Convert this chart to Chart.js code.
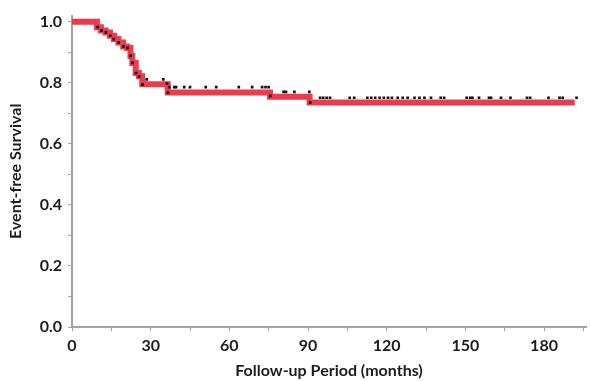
<!DOCTYPE html>
<html>
<head>
<meta charset="utf-8">
<script src="https://cdn.jsdelivr.net/npm/chart.js@4/dist/chart.umd.min.js"></script>
<style>
html,body{margin:0;padding:0;background:#fff;}
#wrap{width:590px;height:381px;}
</style>
</head>
<body>
<div id="wrap"><canvas id="c" width="590" height="381"></canvas></div>
<script>
// Kaplan-Meier step curve (red)
const stepMonths   = [0, 9.5, 11, 12.8, 14.5, 16, 17.7, 19.5, 21, 22.3, 23, 24.3, 25.5, 26.8, 36.5, 75.5, 90.6, 191.7];
const stepSurvival = [1.0, 0.982, 0.971, 0.965, 0.954, 0.943, 0.932, 0.919, 0.914, 0.888, 0.865, 0.832, 0.821, 0.795, 0.768, 0.754, 0.735, 0.735];

// Event markers (black dots on the curve)
const eventMonths   = [9.8, 11.3, 12.9, 14.6, 15.9, 17.8, 19.6, 21.2, 22.4, 23.1, 24.4, 25.6, 26.9, 36.6, 75.6, 90.8];
const eventSurvival = [0.982, 0.971, 0.965, 0.954, 0.943, 0.932, 0.919, 0.914, 0.888, 0.865, 0.832, 0.821, 0.794, 0.768, 0.757, 0.735];

// Censored observations (black dots)
const censorMonths = [28.5, 34.8, 36.2, 37.1,
  39.0, 39.7, 42.8, 45.0, 51.0, 55.0, 63.6, 68.7, 72.5, 73.8, 75.0,
  80.7, 81.6, 84.8, 90.5,
  94.6, 95.8, 97.1, 98.4, 105.9, 107.6, 112.6, 114.1, 115.6, 117.3, 118.9, 120.5, 122.0,
  124.2, 126.1, 128.0, 130.6, 132.5, 134.4, 136.9, 140.6, 141.9, 150.5, 151.8, 152.7,
  155.2, 159.0, 159.8, 163.6, 167.2, 173.5, 174.7, 181.7, 185.9, 187.1, 192.4];
const censorSurvival = [0.811, 0.811, 0.797, 0.786,
  0.786, 0.786, 0.786, 0.786, 0.786, 0.786, 0.786, 0.786, 0.786, 0.786, 0.786,
  0.770, 0.770, 0.770, 0.770,
  0.751, 0.751, 0.751, 0.751, 0.751, 0.751, 0.751, 0.751, 0.751, 0.751, 0.751, 0.751, 0.751,
  0.751, 0.751, 0.751, 0.751, 0.751, 0.751, 0.751, 0.751, 0.751, 0.751, 0.751, 0.751,
  0.751, 0.751, 0.751, 0.751, 0.751, 0.751, 0.751, 0.751, 0.751, 0.751, 0.751];

const xTickStep = 15, xLabelEvery = 30;
const yTickStep = 0.1;
const xTitle = 'Follow-up Period (months)';
const yTitle = 'Event-free Survival';

const stepPts = stepMonths.map((m, i) => ({x: m, y: stepSurvival[i]}));
const dotPts = eventMonths.map((m, i) => ({x: m, y: eventSurvival[i]}))
  .concat(censorMonths.map((m, i) => ({x: m, y: censorSurvival[i]})));

const FONT = 'Lato, "Open Sans", sans-serif';
const axisGray = '#a3a3a3';
const textCol = '#1c1c1c';

new Chart(document.getElementById('c'), {
  type: 'scatter',
  data: {
    datasets: [
      {
        label: 'dots',
        data: dotPts,
        showLine: false,
        pointStyle: 'rect',
        pointRadius: 1.9,
        pointBackgroundColor: '#111',
        pointBorderWidth: 0,
        order: 0
      },
      {
        label: 'KM',
        data: stepPts,
        showLine: true,
        stepped: true,
        borderColor: '#ec3a4f',
        borderWidth: 6,
        pointRadius: 0,
        fill: false,
        order: 1
      }
    ]
  },
  options: {
    responsive: false,
    devicePixelRatio: 1,
    animation: false,
    events: [],
    layout: {padding: {top: 14, right: 0, left: 0, bottom: 0}},
    plugins: {legend: {display: false}, tooltip: {enabled: false}},
    scales: {
      x: {
        type: 'linear',
        min: 0,
        max: 196,
        afterFit: s => { s.height = 54; },
        border: {color: axisGray, width: 2},
        grid: {drawOnChartArea: false, drawTicks: true, tickLength: 4, color: axisGray, lineWidth: 1},
        ticks: {
          stepSize: xTickStep,
          includeBounds: false,
          autoSkip: false,
          maxRotation: 0,
          padding: 5,
          color: textCol,
          font: {family: FONT, size: 16, weight: 'bold'},
          callback: v => (Math.round(v) % xLabelEvery === 0 ? String(Math.round(v)) : '')
        },
        title: {
          display: true,
          text: xTitle,
          color: textCol,
          font: {family: FONT, size: 16, weight: 'bold'},
          padding: {top: 0, bottom: 1}
        }
      },
      y: {
        type: 'linear',
        min: 0,
        max: 1.02,
        afterFit: s => { s.width = 72; },
        border: {color: axisGray, width: 2},
        grid: {drawOnChartArea: false, drawTicks: true, tickLength: 4, color: axisGray, lineWidth: 1},
        ticks: {
          stepSize: yTickStep,
          includeBounds: false,
          autoSkip: false,
          padding: 6,
          color: textCol,
          font: {family: FONT, size: 16, weight: 'bold'},
          callback: v => (Math.round(v * 10) % 2 === 0 ? v.toFixed(1) : '')
        },
        title: {
          display: true,
          text: yTitle,
          color: textCol,
          font: {family: FONT, size: 16, weight: 'bold'},
          padding: {top: 6, bottom: 0}
        }
      }
    }
  }
});
</script>
</body>
</html>
